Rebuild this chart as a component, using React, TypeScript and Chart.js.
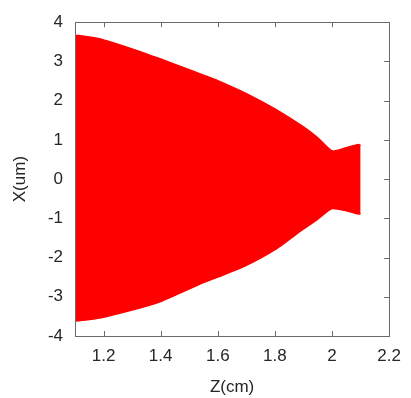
import React, { useEffect, useRef } from "react";
import { Chart, registerables } from "chart.js";

Chart.register(...registerables);

// Envelope of the particle cloud (upper and lower edges)
const zUpper = [1.1, 1.15, 1.2, 1.3, 1.4, 1.5, 1.55, 1.6, 1.7, 1.8, 1.9, 1.95, 2.0, 2.05, 2.092, 2.1];
const xUpper = [3.67, 3.62, 3.55, 3.32, 3.06, 2.79, 2.65, 2.51, 2.18, 1.79, 1.33, 1.05, 0.72, 0.8, 0.88, 0.86];
const zLower = [1.1, 1.15, 1.2, 1.3, 1.4, 1.5, 1.55, 1.6, 1.7, 1.8, 1.9, 1.95, 2.0, 2.05, 2.092, 2.1];
const xLower = [-3.62, -3.58, -3.52, -3.34, -3.12, -2.8, -2.64, -2.5, -2.2, -1.8, -1.27, -1.02, -0.75, -0.81, -0.89, -0.88];

const zTicks = [1.2, 1.4, 1.6, 1.8, 2.0, 2.2];
const xTicks = [-4, -3, -2, -1, 0, 1, 2, 3, 4];

const RED = "#ff0000";
const FRAME = "#6a6a6a";
const TEXT = "#262626";
const FONT = { family: "'Liberation Sans', Arial, sans-serif", size: 17 };

const framePlugin = {
  id: "frame",
  beforeDatasetsDraw(chart: any) {
    const { ctx, chartArea: a, scales } = chart;
    const len = 5;
    ctx.save();
    ctx.strokeStyle = FRAME;
    ctx.lineWidth = 1;
    ctx.beginPath();
    for (const v of zTicks) {
      const px = Math.round(scales.x.getPixelForValue(v)) + 0.5;
      ctx.moveTo(px, a.bottom);
      ctx.lineTo(px, a.bottom - len);
      ctx.moveTo(px, a.top);
      ctx.lineTo(px, a.top + len);
    }
    for (const v of xTicks) {
      const py = Math.round(scales.y.getPixelForValue(v)) + 0.5;
      ctx.moveTo(a.left, py);
      ctx.lineTo(a.left + len, py);
      ctx.moveTo(a.right, py);
      ctx.lineTo(a.right - len, py);
    }
    ctx.stroke();
    ctx.restore();
  },
  afterDatasetsDraw(chart: any) {
    const { ctx, chartArea: a } = chart;
    ctx.save();
    ctx.strokeStyle = FRAME;
    ctx.lineWidth = 1;
    ctx.strokeRect(Math.round(a.left) + 0.5, Math.round(a.top) + 0.5, Math.round(a.right - a.left), Math.round(a.bottom - a.top));
    ctx.restore();
  },
};

export default function App() {
  const ref = useRef<HTMLCanvasElement>(null);

  useEffect(() => {
    const canvas = ref.current;
    if (!canvas) return;
    const chart = new Chart(canvas, {
      type: "line",
      data: {
        datasets: [
          {
            label: "upper",
            data: zUpper.map((z, i) => ({ x: z, y: xUpper[i] })),
            borderColor: RED,
            backgroundColor: RED,
            borderWidth: 1.5,
            pointRadius: 0,
            fill: "origin",
            tension: 0.2,
          },
          {
            label: "lower",
            data: zLower.map((z, i) => ({ x: z, y: xLower[i] })),
            borderColor: RED,
            backgroundColor: RED,
            borderWidth: 1.5,
            pointRadius: 0,
            fill: "origin",
            tension: 0.2,
          },
        ],
      },
      options: {
        responsive: false,
        animation: false,
        layout: { padding: { top: 19, right: 19, left: 10, bottom: 0 } },
        plugins: { legend: { display: false }, tooltip: { enabled: false } },
        scales: {
          x: {
            type: "linear",
            min: 1.1,
            max: 2.2,
            afterBuildTicks: (s: any) => {
              s.ticks = zTicks.map((v) => ({ value: v }));
            },
            afterFit: (s: any) => {
              s.height = 62;
            },
            grid: { display: false, drawTicks: false },
            border: { display: false },
            ticks: {
              font: FONT,
              color: TEXT,
              padding: 10,
              maxRotation: 0,
              autoSkip: false,
              callback: (v: any) => String(Number(Number(v).toFixed(1))),
            },
            title: {
              display: true,
              text: "Z(cm)",
              font: FONT,
              color: TEXT,
              padding: { top: 0, bottom: 0 },
            },
          },
          y: {
            type: "linear",
            min: -4,
            max: 4,
            afterBuildTicks: (s: any) => {
              s.ticks = xTicks.map((v) => ({ value: v }));
            },
            afterFit: (s: any) => {
              s.width = 65;
            },
            grid: { display: false, drawTicks: false },
            border: { display: false },
            ticks: {
              font: FONT,
              color: TEXT,
              padding: 12,
              autoSkip: false,
              callback: (v: any) => String(v),
            },
            title: {
              display: true,
              text: "X(um)",
              font: FONT,
              color: TEXT,
              padding: { top: 0, bottom: 0 },
            },
          },
        },
      },
      plugins: [framePlugin],
    });
    return () => chart.destroy();
  }, []);

  return (
    <div style={{ position: "fixed", left: 0, top: 0, width: 411, height: 398, background: "#fff" }}>
      <canvas ref={ref} width={411} height={398} />
    </div>
  );
}
